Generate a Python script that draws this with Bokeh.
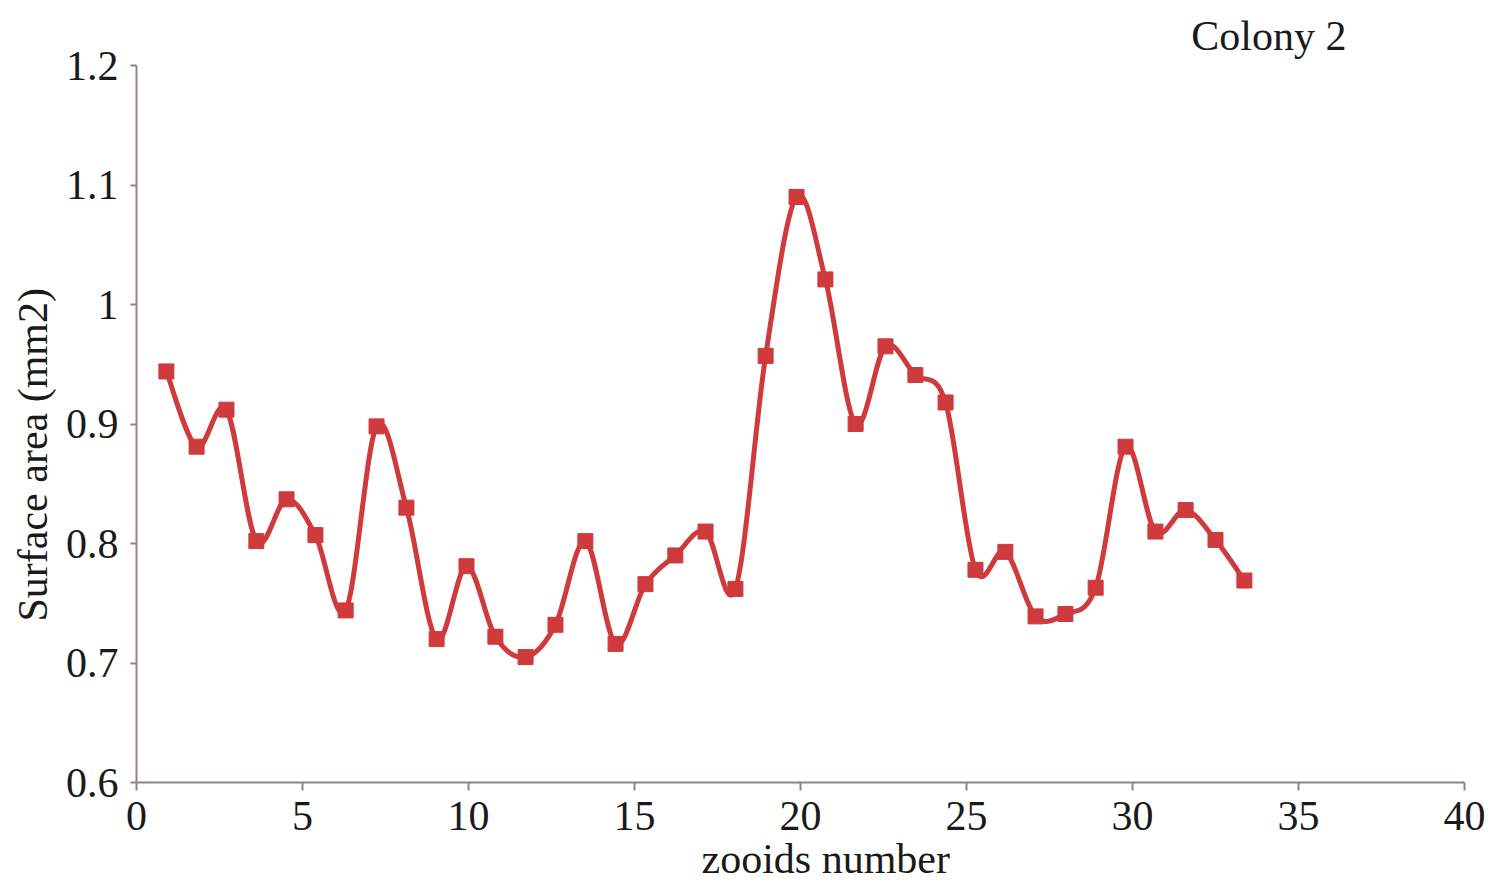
from bokeh.plotting import figure
from bokeh.models import Range1d, FixedTicker, Title, CustomJSTickFormatter
from bokeh.embed import file_html
from bokeh.resources import INLINE

# Data
zooid_x = [0.90, 1.81, 2.71, 3.61, 4.52, 5.39, 6.30, 7.23, 8.13, 9.04,
           9.94, 10.81, 11.72, 12.62, 13.52, 14.43, 15.33, 16.23, 17.14, 18.04,
           18.95, 19.88, 20.75, 21.66, 22.56, 23.46, 24.37, 25.27, 26.17, 27.08,
           27.98, 28.89, 29.79, 30.69, 31.60, 32.50, 33.37]
surface_area = [0.944, 0.881, 0.912, 0.802, 0.837, 0.807, 0.744, 0.898, 0.830, 0.720,
                0.781, 0.722, 0.705, 0.732, 0.802, 0.716, 0.766, 0.790, 0.810, 0.762,
                0.957, 1.090, 1.021, 0.900, 0.965, 0.941, 0.918, 0.778, 0.793, 0.739,
                0.741, 0.763, 0.881, 0.810, 0.828, 0.803, 0.769]
x_ticks = [0, 5, 10, 15, 20, 25, 30, 35, 40]
y_ticks = [0.6, 0.7, 0.8, 0.9, 1.0, 1.1, 1.2]
y_tick_labels = ["0.6", "0.7", "0.8", "0.9", "1", "1.1", "1.2"]
title_text = "Colony 2"
x_label = "zooids number"
y_label = "Surface area (mm2)"

FONT = "Liberation Serif"
RED = "#cf3a3d"
AXIS = "#8f8580"
TXT = "#1a1a1a"

p = figure(frame_width=1328, frame_height=717, output_backend="svg",
           toolbar_location=None, x_range=Range1d(0, 40), y_range=Range1d(0.6, 1.2))
p.min_border_left = 0
p.min_border_right = 27
p.min_border_top = 65
p.min_border_bottom = 0
p.outline_line_color = None
p.grid.visible = False
p.background_fill_color = "white"
p.border_fill_color = "white"

# Smoothed line (Catmull-Rom style Bezier segments, like a spreadsheet's smoothed line)
n = len(zooid_x)
x0s, y0s, x1s, y1s, cx0, cy0, cx1, cy1 = [], [], [], [], [], [], [], []
for i in range(n - 1):
    xa, ya = zooid_x[i], surface_area[i]
    xb, yb = zooid_x[i + 1], surface_area[i + 1]
    xp, yp = (zooid_x[i - 1], surface_area[i - 1]) if i > 0 else (xa, ya)
    xn, yn = (zooid_x[i + 2], surface_area[i + 2]) if i + 2 < n else (xb, yb)
    x0s.append(xa); y0s.append(ya); x1s.append(xb); y1s.append(yb)
    cx0.append(xa + (xb - xp) / 6.0); cy0.append(ya + (yb - yp) / 6.0)
    cx1.append(xb - (xn - xa) / 6.0); cy1.append(yb - (yn - ya) / 6.0)
p.bezier(x0=x0s, y0=y0s, x1=x1s, y1=y1s, cx0=cx0, cy0=cy0, cx1=cx1, cy1=cy1,
         line_color=RED, line_width=5)
p.scatter(zooid_x, surface_area, marker="square", size=15, fill_color=RED,
          line_color=RED)

for ax in (p.xaxis[0], p.yaxis[0]):
    ax.axis_line_color = AXIS
    ax.axis_line_width = 2
    ax.major_tick_line_color = AXIS
    ax.major_tick_line_width = 2
    ax.minor_tick_line_color = None
    ax.major_tick_in = 0
    ax.major_label_text_font = FONT
    ax.major_label_text_font_size = "42px"
    ax.major_label_text_color = TXT

p.xaxis.ticker = FixedTicker(ticks=x_ticks)
p.yaxis.ticker = FixedTicker(ticks=y_ticks)
p.xaxis.major_tick_out = 8
p.yaxis.major_tick_out = 6
p.xaxis.major_label_standoff = 11
p.yaxis.major_label_standoff = 12
p.yaxis.formatter = CustomJSTickFormatter(
    args=dict(tick_vals=y_ticks, tick_txt=y_tick_labels),
    code="""
    for (let i = 0; i < tick_vals.length; i++) {
        if (Math.abs(tick_vals[i] - tick) < 1e-9) { return tick_txt[i]; }
    }
    return tick.toString();
    """)

title_top = Title(text=title_text, align="right", offset=118, text_font=FONT,
                  text_font_size="42px", text_font_style="normal", text_color=TXT,
                  standoff=13)
p.add_layout(title_top, "above")
title_left = Title(text=y_label, align="left", offset=161, text_font=FONT,
                   text_font_size="42px", text_font_style="normal", text_color=TXT,
                   standoff=14)
p.add_layout(title_left, "left")
title_below = Title(text=x_label, align="left", offset=565, text_font=FONT,
                    text_font_size="42px", text_font_style="normal", text_color=TXT,
                    standoff=2)
p.add_layout(title_below, "below")

open("out.html", "w").write(file_html(p, INLINE))
